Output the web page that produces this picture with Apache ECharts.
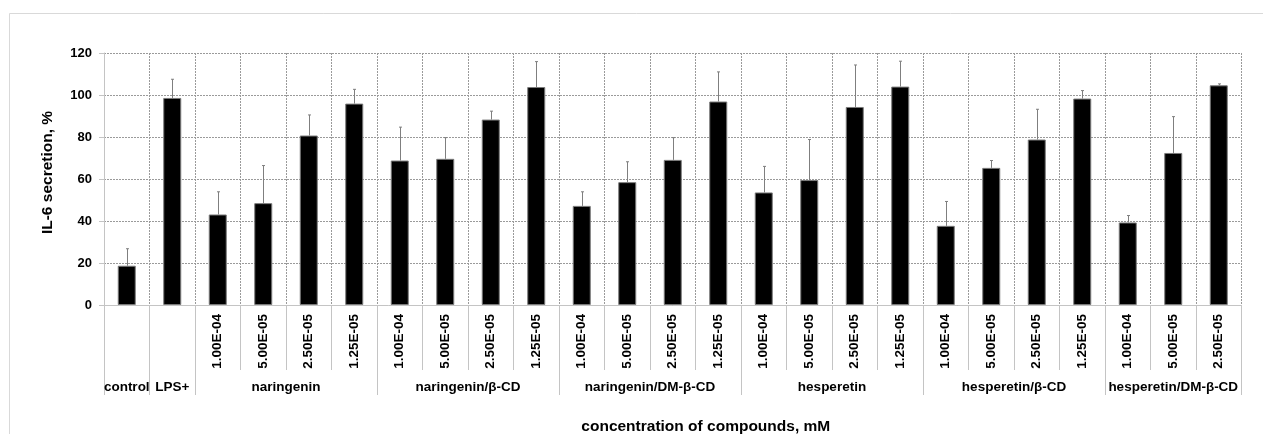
<!DOCTYPE html>
<html>
<head>
<meta charset="utf-8">
<script src="https://cdn.jsdelivr.net/npm/echarts@6/dist/echarts.min.js"></script>
<style>
  html, body { margin: 0; padding: 0; background: #fff; }
  #chart { width: 1263px; height: 434px; }
</style>
</head>
<body>
<div id="chart"></div>
<script>
// Treatment groups and how many concentrations each one covers
const groupNames = ['control', 'LPS+', 'naringenin', 'naringenin/β-CD', 'naringenin/DM-β-CD',
  'hesperetin', 'hesperetin/β-CD', 'hesperetin/DM-β-CD'];
const groupSizes = [1, 1, 4, 4, 4, 4, 4, 3];

// Concentration label under each bar (mM); control and LPS+ have none
const concentrations = ['', '',
  '1.00E-04', '5.00E-05', '2.50E-05', '1.25E-05',
  '1.00E-04', '5.00E-05', '2.50E-05', '1.25E-05',
  '1.00E-04', '5.00E-05', '2.50E-05', '1.25E-05',
  '1.00E-04', '5.00E-05', '2.50E-05', '1.25E-05',
  '1.00E-04', '5.00E-05', '2.50E-05', '1.25E-05',
  '1.00E-04', '5.00E-05', '2.50E-05'];

// IL-6 secretion, % (mean) and its upper error (SD)
const secretion = [18.7, 98.6,
  43.1, 48.5, 80.7, 95.9,
  68.8, 69.6, 88.3, 103.8,
  47.2, 58.5, 69.1, 96.9,
  53.6, 59.5, 94.3, 104.0,
  37.7, 65.3, 78.8, 98.3,
  39.3, 72.4, 104.6];
const secretionSD = [8.1, 8.9,
  10.8, 17.9, 9.8, 6.8,
  15.9, 10.1, 4.0, 12.1,
  6.7, 9.7, 10.6, 14.1,
  12.4, 19.3, 20.0, 12.1,
  11.6, 3.5, 14.4, 3.8,
  3.3, 17.3, 0.7];

const yTicks = [0, 20, 40, 60, 80, 100, 120];

// Group boundaries and centres along the category index scale
const groupBounds = [0];
groupSizes.forEach(function (n) { groupBounds.push(groupBounds[groupBounds.length - 1] + n); });
const groupCenters = groupSizes.map(function (n, i) { return groupBounds[i] + n / 2; });

const FONT = '"Liberation Sans", Arial, sans-serif';
const gridColor = '#9a9a9a';
const axisColor = '#c4c4c4';

const chart = echarts.init(document.getElementById('chart'), null, { renderer: 'canvas' });

chart.setOption({
  animation: false,
  backgroundColor: '#ffffff',
  graphic: [{
    type: 'rect',
    left: 7, top: 11,
    shape: { width: 1400, height: 600 },
    style: { fill: 'none', stroke: '#d9d9d9', lineWidth: 1 },
    silent: true
  }],
  grid: { left: 104, right: 21.5, top: 53, bottom: 129, outerBoundsMode: 'none' },
  xAxis: [{
    type: 'category',
    data: concentrations,
    boundaryGap: true,
    axisLine: { show: true, lineStyle: { color: axisColor, width: 1 } },
    axisTick: { show: true, interval: 0, length: 65, lineStyle: { color: axisColor } },
    axisLabel: {
      interval: 0, rotate: 90, margin: 9,
      fontFamily: FONT, fontWeight: 'bold', fontSize: 13.5, color: '#000'
    },
    splitLine: { show: true, interval: 0, lineStyle: { color: gridColor, type: [2, 1], width: 1 } }
  }, {
    type: 'value',
    min: 0,
    max: concentrations.length,
    position: 'bottom',
    axisLine: { show: false },
    axisTick: { show: true, customValues: groupBounds, length: 90, lineStyle: { color: axisColor } },
    axisLabel: {
      customValues: groupCenters,
      margin: 75,
      fontFamily: FONT, fontWeight: 'bold', fontSize: 13.5, color: '#000',
      formatter: function (v) {
        const i = groupCenters.indexOf(v);
        return i >= 0 ? groupNames[i] : '';
      }
    },
    splitLine: { show: false },
    name: 'concentration of compounds, mM',
    nameLocation: 'middle',
    nameGap: 114,
    nameTextStyle: {
      fontFamily: FONT, fontWeight: 'bold', fontSize: 15.5, color: '#000',
      padding: [0, 0, 0, 66]
    }
  }],
  yAxis: {
    type: 'value',
    min: yTicks[0],
    max: yTicks[yTicks.length - 1],
    interval: yTicks[1] - yTicks[0],
    axisLine: { show: true, lineStyle: { color: axisColor, width: 1 } },
    axisTick: { show: true, length: 5, lineStyle: { color: axisColor } },
    axisLabel: {
      margin: 12,
      fontFamily: FONT, fontWeight: 'bold', fontSize: 13, color: '#000'
    },
    splitLine: { show: true, lineStyle: { color: gridColor, type: [2, 1], width: 1 } },
    name: 'IL-6 secretion, %',
    nameLocation: 'middle',
    nameGap: 48,
    nameTextStyle: {
      fontFamily: FONT, fontWeight: 'bold', fontSize: 15.5, color: '#000',
      padding: [0, 0, 0, 13]
    }
  },
  series: [{
    type: 'bar',
    xAxisIndex: 0,
    data: secretion,
    barWidth: 18,
    itemStyle: { color: '#000000', borderColor: '#7a7a7a', borderWidth: 1 },
    z: 2
  }, {
    // upward error bars with a short cap
    type: 'custom',
    xAxisIndex: 0,
    data: secretion.map(function (v, i) { return [i, v, secretionSD[i]]; }),
    encode: { x: 0, y: 1 },
    z: 3,
    renderItem: function (params, api) {
      const i = api.value(0);
      const m = api.value(1);
      const e = api.value(2);
      const base = api.coord([i, m]);
      const top = api.coord([i, m + e]);
      const x = Math.round(base[0]) + 0.5;
      return {
        type: 'group',
        children: [{
          type: 'line',
          shape: { x1: x, y1: base[1], x2: x, y2: top[1] },
          style: { stroke: '#7f7f7f', lineWidth: 1 }
        }, {
          type: 'line',
          shape: { x1: x - 1.5, y1: top[1], x2: x + 1.5, y2: top[1] },
          style: { stroke: '#7f7f7f', lineWidth: 1 }
        }]
      };
    }
  }]
});
</script>
</body>
</html>
